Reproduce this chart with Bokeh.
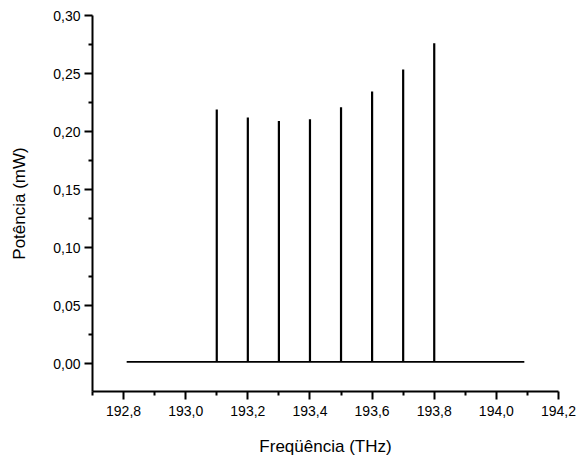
from bokeh.plotting import figure
from bokeh.models import Range1d, FixedTicker, CustomJSTickFormatter
from bokeh.embed import file_html
from bokeh.resources import INLINE

# Data
peak_freqs = [193.1, 193.2, 193.3, 193.4, 193.5, 193.6, 193.7, 193.8]
peak_powers = [0.219, 0.212, 0.209, 0.2105, 0.221, 0.2345, 0.2535, 0.276]
baseline_freqs = [192.81, 194.09]
baseline_level = 0.0015

x_ticks = [192.8, 193.0, 193.2, 193.4, 193.6, 193.8, 194.0, 194.2]
x_minor = [192.7, 192.9, 193.1, 193.3, 193.5, 193.7, 193.9, 194.1]
y_ticks = [0.0, 0.05, 0.10, 0.15, 0.20, 0.25, 0.30]
y_minor = [0.025, 0.075, 0.125, 0.175, 0.225, 0.275]

FONT = "Liberation Sans"

p = figure(width=576, height=458, output_backend="svg", toolbar_location=None,
           x_range=Range1d(192.7, 194.2), y_range=Range1d(-0.024, 0.30),
           min_border_left=92, min_border_right=18, min_border_top=15, min_border_bottom=67)
p.outline_line_color = None
p.xgrid.visible = False
p.ygrid.visible = False
p.background_fill_color = "white"
p.border_fill_color = "white"

# baseline
p.line(x=baseline_freqs, y=[baseline_level] * len(baseline_freqs), line_color="black", line_width=1.6)
# peaks
p.segment(x0=peak_freqs, y0=[baseline_level] * len(peak_freqs), x1=peak_freqs, y1=peak_powers,
          line_color="black", line_width=2.2)

for ax, ticks, minor, digits in ((p.xaxis[0], x_ticks, x_minor, 1), (p.yaxis[0], y_ticks, y_minor, 2)):
    ax.ticker = FixedTicker(ticks=ticks, minor_ticks=minor)
    ax.formatter = CustomJSTickFormatter(code="return tick.toFixed(%d).replace('.', ',');" % digits)
    ax.axis_line_width = 2
    ax.axis_line_color = "black"
    ax.major_tick_line_width = 2
    ax.minor_tick_line_width = 2
    ax.major_tick_in = 0
    ax.major_tick_out = 8
    ax.minor_tick_in = 0
    ax.minor_tick_out = 4
    ax.major_label_text_font = FONT
    ax.major_label_text_font_size = "14px"
    ax.major_label_text_color = "black"
    ax.axis_label_text_font = FONT
    ax.axis_label_text_font_size = "17px"
    ax.axis_label_text_font_style = "normal"
    ax.axis_label_text_color = "black"

p.xaxis.axis_label = "Freqüência (THz)"
p.yaxis.axis_label = "Potência (mW)"
p.xaxis.major_label_standoff = 6
p.yaxis.major_label_standoff = 4
p.xaxis.axis_label_standoff = 18
p.yaxis.axis_label_standoff = 21

open("out.html", "w").write(file_html(p, INLINE))
